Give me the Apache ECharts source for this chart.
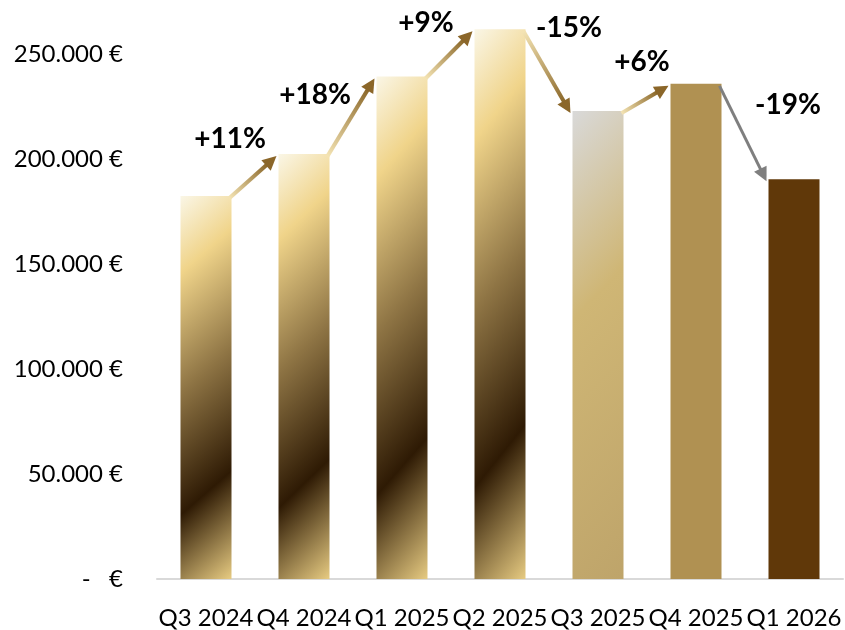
<!DOCTYPE html>
<html>
<head>
<meta charset="utf-8">
<script src="https://cdn.jsdelivr.net/npm/echarts@6/dist/echarts.min.js"></script>
<style>
  html, body { margin: 0; padding: 0; background: #ffffff; }
  #chart { width: 845px; height: 630px; }
</style>
</head>
<body>
<div id="chart"></div>
<script>
// Quarterly revenue in euro
const quarters = ['Q3 2024', 'Q4 2024', 'Q1 2025', 'Q2 2025', 'Q3 2025', 'Q4 2025', 'Q1 2026'];
const revenue = [182500, 202500, 239500, 262000, 223000, 236000, 190500];
const yTicks = [0, 50000, 100000, 150000, 200000, 250000];

// Layout and style constants
const GRID = { left: 157, right: 2, top: 2, bottom: 49 };
const Y_MAX = 275000;
const BAR_W = 51;
const FONT = 'Lato, "Open Sans", sans-serif';

const chart = echarts.init(document.getElementById('chart'), null, { renderer: 'canvas' });
const plotH = chart.getHeight() - GRID.top - GRID.bottom;

// Diagonal gradient across one bar: bands tilt slightly, rising to the right
function diagonalFill(value, stops) {
  const H = value / Y_MAX * plotH;
  const W = BAR_W;
  const k = 0.115;
  const c = (1 + k) * H * W / (k * k * H * H + W * W);
  return new echarts.graphic.LinearGradient(0, 0, c * k * H / W, c * W / H, stops);
}

const goldStops = [
  { offset: 0, color: '#faf6e6' },
  { offset: 0.18, color: '#f0d48a' },
  { offset: 0.46, color: '#8e7444' },
  { offset: 0.745, color: '#2e1a04' },
  { offset: 1, color: '#e9cd83' }
];
const silverGoldStops = [
  { offset: 0, color: '#d9d9d9' },
  { offset: 0.4, color: '#cfb675' },
  { offset: 1, color: '#bea46a' }
];

function barColor(i, v) {
  if (i < 4) return diagonalFill(v, goldStops);
  if (i === 4) return diagonalFill(v, silverGoldStops);
  if (i === 5) return '#b09152';
  return '#603809';
}

function fmtEuro(v) {
  if (v === 0) return '-   €';
  if (yTicks.indexOf(v) < 0) return '';
  return String(v).replace(/\B(?=(\d{3})+(?!\d))/g, '.') + ' €';
}

function pctText(a, b) {
  const p = Math.round((b / a - 1) * 100);
  return (p > 0 ? '+' : '') + p + '%';
}

// Arrows between consecutive bars, with the change label
const arrowStyle = ['gold', 'gold', 'gold', 'gold', 'gold', 'gray'];
const labelOffset = [[-23, -38], [-36, -22], [-23, -32], [22, -44], [-3, -37], [45, -29]];
const changes = revenue.slice(1).map((v, i) => [i, revenue[i], i + 1, v]);

function renderArrow(params, api) {
  const idx = params.dataIndex;
  const p0 = api.coord([api.value(0), api.value(1)]);
  const p1 = api.coord([api.value(2), api.value(3)]);
  const sx = p0[0] + BAR_W / 2 - 2, sy = p0[1] + 2;
  const ex = p1[0] - BAR_W / 2 - 2, ey = p1[1] + 2;
  const dx = ex - sx, dy = ey - sy;
  const len = Math.sqrt(dx * dx + dy * dy);
  const ux = dx / len, uy = dy / len;
  const headLen = 14, headHalf = 7;
  const bx = ex - ux * headLen, by = ey - uy * headLen;
  const gray = arrowStyle[idx] === 'gray';
  const stroke = gray ? '#7f7f7f'
    : new echarts.graphic.LinearGradient(sx, sy, bx, by, [
        { offset: 0, color: '#f4e4b4' },
        { offset: 1, color: '#8d6a2c' }
      ], true);
  const headColor = gray ? '#7f7f7f' : '#8b6629';
  const mx = (sx + ex) / 2, my = (sy + ey) / 2;
  const off = labelOffset[idx];
  return {
    type: 'group',
    children: [
      {
        type: 'line',
        shape: { x1: sx, y1: sy, x2: bx + ux, y2: by + uy },
        style: { stroke: stroke, lineWidth: gray ? 3 : 4 }
      },
      {
        type: 'polygon',
        shape: {
          points: [
            [ex, ey],
            [bx - uy * headHalf, by + ux * headHalf],
            [bx + uy * headHalf, by - ux * headHalf]
          ]
        },
        style: { fill: headColor }
      },
      {
        type: 'text',
        x: mx + off[0],
        y: my + off[1],
        style: {
          text: pctText(api.value(1), api.value(3)),
          font: 'bold 28px ' + FONT,
          fill: '#000000',
          align: 'center',
          verticalAlign: 'middle'
        }
      }
    ]
  };
}

chart.setOption({
  animation: false,
  backgroundColor: '#ffffff',
  grid: GRID,
  xAxis: {
    type: 'category',
    data: quarters,
    axisTick: { show: false },
    axisLine: { lineStyle: { color: '#d9d9d9', width: 2 } },
    axisLabel: { interval: 0, margin: 27, color: '#000000', fontSize: 24, fontFamily: FONT }
  },
  yAxis: {
    type: 'value',
    min: 0,
    max: Y_MAX,
    interval: 50000,
    splitLine: { show: false },
    axisLine: { show: false },
    axisTick: { show: false },
    axisLabel: { margin: 34, color: '#000000', fontSize: 24, fontFamily: FONT, formatter: fmtEuro }
  },
  series: [
    {
      type: 'bar',
      barWidth: BAR_W,
      data: revenue.map((v, i) => ({ value: v, itemStyle: { color: barColor(i, v) } }))
    },
    {
      type: 'custom',
      renderItem: renderArrow,
      data: changes,
      z: 5
    }
  ]
});
</script>
</body>
</html>
